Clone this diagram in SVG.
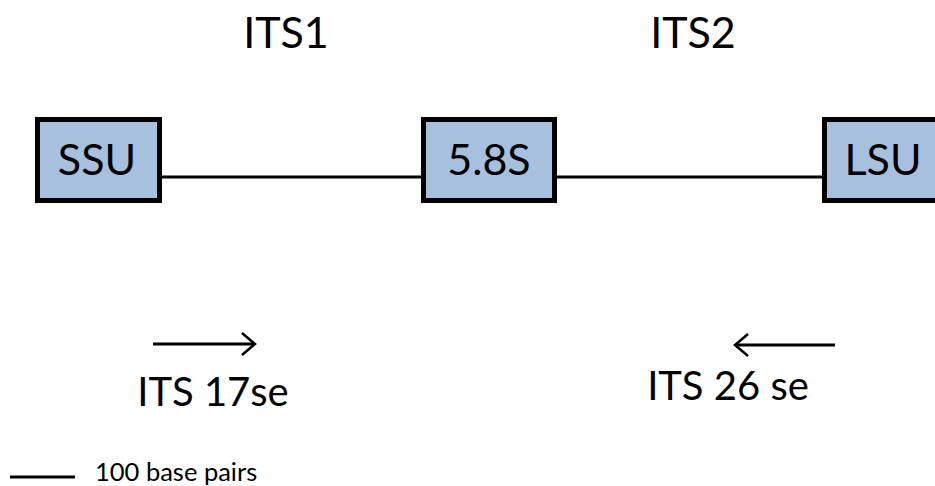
<svg xmlns="http://www.w3.org/2000/svg" width="935" height="486" viewBox="0 0 935 486">
<defs>
<style>
.box{fill:#a7c0de;stroke:#000;stroke-width:5}
.lbl{font-family:Lato,"Open Sans","Liberation Sans",sans-serif;fill:#000}
.ln{stroke:#000;stroke-width:3;fill:none}
.head{stroke:#000;stroke-width:2.5;fill:none}
</style>
</defs>
<rect width="935" height="486" fill="#fff"/>
<g id="connectors">
<line class="ln" x1="158" y1="177" x2="423" y2="177"/>
<line class="ln" x1="554" y1="177" x2="824" y2="177"/>
</g>
<g id="ssu">
<rect class="box" x="37.5" y="119.5" width="122" height="81"/>
<text class="lbl" x="97" y="175" font-size="43" text-anchor="middle">SSU</text>
</g>
<g id="s58">
<rect class="box" x="423.5" y="119.5" width="131" height="81"/>
<text class="lbl" x="489" y="175" font-size="43" text-anchor="middle">5.8S</text>
</g>
<g id="lsu">
<rect class="box" x="824.5" y="119.5" width="130" height="81"/>
<text class="lbl" x="883" y="175" font-size="43" text-anchor="middle">LSU</text>
</g>
<g id="its1">
<text class="lbl" x="286" y="48" font-size="43" text-anchor="middle">ITS1</text>
</g>
<g id="its2">
<text class="lbl" x="693" y="48" font-size="43" text-anchor="middle">ITS2</text>
</g>
<g id="primer17">
<line class="ln" x1="153" y1="344" x2="254" y2="344"/>
<polyline class="head" points="242,333 255,344 242,355"/>
<text class="lbl" x="213" y="406" font-size="40" text-anchor="middle">ITS 17se</text>
</g>
<g id="primer26">
<line class="ln" x1="736" y1="345" x2="835" y2="345"/>
<polyline class="head" points="748,334 735,345 748,356"/>
<text class="lbl" x="728" y="400" font-size="40" text-anchor="middle">ITS 26 se</text>
</g>
<g id="scale">
<line class="ln" x1="10" y1="477" x2="75" y2="477"/>
<text class="lbl" x="95" y="481" font-size="25.5">100 base pairs</text>
</g>
</svg>
